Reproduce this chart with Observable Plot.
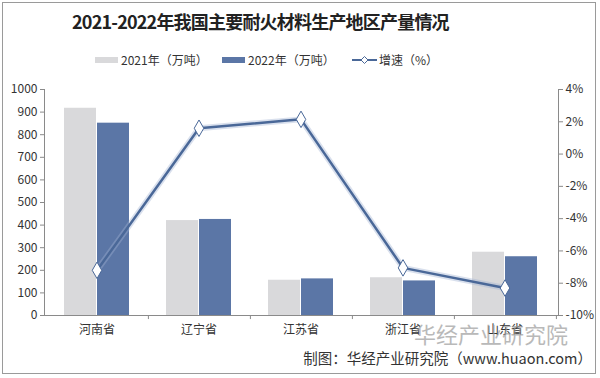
<!DOCTYPE html>
<html><head><meta charset="utf-8">
<script src="https://cdn.jsdelivr.net/npm/d3@7"></script>
<script src="https://cdn.jsdelivr.net/npm/@observablehq/plot@0.6"></script>
<style>
body{margin:0;background:#fff;font-family:"Noto Sans CJK SC","Noto Sans",sans-serif;}
#wrap{position:relative;width:600px;height:378px;overflow:hidden;}
#border{position:absolute;left:2px;top:2px;width:594px;height:372px;border:1px solid #9a9a9a;box-sizing:border-box;}
.abs{position:absolute;white-space:nowrap;}
#title{left:72px;top:8px;font-size:18px;letter-spacing:-0.8px;font-weight:bold;color:#222;}
.leg{top:51px;font-size:12px;color:#333;display:flex;align-items:center;}
.sw{display:inline-block;width:23px;height:6px;margin-right:3px;}
#chart{position:absolute;left:0;top:72px;}
#src{right:8px;top:347px;font-size:14.5px;color:#333;}
#wm{left:414px;top:322px;font-size:22px;line-height:1;color:#9c9c9c;opacity:0.7;}
</style></head>
<body>
<div id="wrap">
<div id="border"></div>
<div id="title" class="abs">2021-2022年我国主要耐火材料生产地区产量情况</div>
<div class="abs leg" style="left:95px"><span class="sw" style="background:#d9d9db"></span>2021年（万吨）</div>
<div class="abs leg" style="left:222px"><span class="sw" style="background:#5b76a6"></span>2022年（万吨）</div>
<div class="abs leg" style="left:352px"><svg width="25" height="10" style="margin-right:2px"><line x1="0" y1="5" x2="25" y2="5" stroke="#4a6898" stroke-width="2"/><path d="M12.5,1.5L16,5L12.5,8.5L9,5Z" fill="#fff" stroke="#4a6898" stroke-width="1"/></svg>增速（%）</div>
<div id="chart"></div>
<div id="wm" class="abs">华经产业研究院</div>
<div id="src" class="abs">制图：华经产业研究院（www.huaon.com）</div>
</div>
<script>
const regions = ["河南省","辽宁省","江苏省","浙江省","山东省"];
const v2021 = [917, 420, 156, 167, 280];
const v2022 = [851, 425, 162, 153, 260];
const rates = [-7.2, 1.6, 2.15, -7.05, -8.3];
const leftTicks = [0,100,200,300,400,500,600,700,800,900,1000];
const rightTicks = [-10,-8,-6,-4,-2,0,2,4];

const pctToY = p => (p + 10) * 1000 / 14;
const yToPct = v => Math.round(v * 14 / 1000 - 10);

const data = regions.map((r, i) => ({region: r, a: v2021[i], b: v2022[i], rate: rates[i]}));

const W = 600, ML = 44, MR = 42;
const step = (W - ML - MR) / regions.length;
const bw = step * 0.642;

const chart = Plot.plot({
  width: W, height: 270,
  marginLeft: ML, marginRight: MR, marginTop: 17, marginBottom: 27,
  style: {fontFamily: '"Noto Sans CJK SC","Noto Sans",sans-serif', fontSize: "12px", color: "#333", overflow: "visible"},
  x: {type: "band", domain: regions, paddingInner: 0.358, paddingOuter: 0.179, align: 0.5, label: null},
  y: {domain: [0, 1000], label: null},
  marks: [
    Plot.barY(data, {x: "region", y: "a", fill: "#d9d9db", insetRight: bw / 2}),
    Plot.barY(data, {x: "region", y: "b", fill: "#5b76a6", insetLeft: bw / 2}),
    Plot.ruleY([0], {stroke: "#8a8a8a"}),
    Plot.frame({anchor: "left", stroke: "#8a8a8a"}),
    Plot.frame({anchor: "right", stroke: "#8a8a8a"}),
    Plot.ruleX(regions, {x: d => d, dx: step / 2, y1: 0, y2: -18, stroke: "#8a8a8a"}),
    Plot.axisY({anchor: "left", ticks: leftTicks, tickFormat: d => String(d), tickSize: 4, tickPadding: 3, stroke: "#8a8a8a", fill: "#333", label: null, fontSize: 12}),
    Plot.axisY({anchor: "right", ticks: rightTicks.map(pctToY), tickFormat: v => yToPct(v) + "%", tickSize: 4, tickPadding: 3, stroke: "#8a8a8a", fill: "#333", label: null, fontSize: 12}),
    Plot.axisX({tickSize: 0, tickPadding: 10, fill: "#333", label: null, fontSize: 12}),
    Plot.line(data, {x: "region", y: d => pctToY(d.rate), stroke: "#9fb1d3", strokeWidth: 6, strokeOpacity: 0.4}),
    Plot.line(data, {x: "region", y: d => pctToY(d.rate), stroke: "#4a6898", strokeWidth: 2.5}),
    Plot.dot(data, {x: "region", y: d => pctToY(d.rate), symbol: "diamond", r: 5, fill: "#fff", stroke: "#4a6898", strokeWidth: 1})
  ]
});
document.getElementById("chart").appendChild(chart);
</script>
</body></html>
